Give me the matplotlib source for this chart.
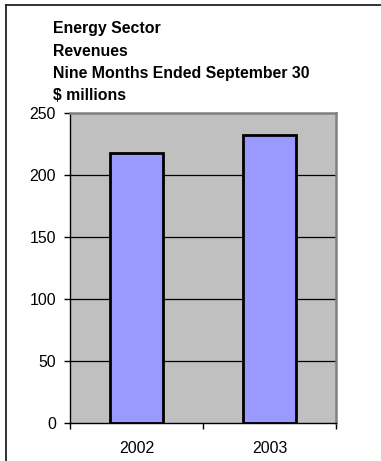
import matplotlib
matplotlib.use("Agg")
import matplotlib.pyplot as plt
from matplotlib.lines import Line2D

years = ["2002", "2003"]
revenues = [217.5, 232.0]
y_ticks = [0, 50, 100, 150, 200, 250]
title_lines = ["Energy Sector", "Revenues", "Nine Months Ended September 30", "$ millions"]

W, H = 381, 461
plt.rcParams["font.family"] = ["Liberation Sans", "DejaVu Sans"]
plt.rcParams["font.size"] = 11.4

fig = plt.figure(figsize=(W / 100, H / 100), dpi=100)
fig.patch.set_facecolor("white")

# outer chart frame (left + top edges only show)
fig.add_artist(Line2D([6 / W, 6 / W], [0, 1 - 5 / H], transform=fig.transFigure,
                      color="#222222", lw=1.3))
fig.add_artist(Line2D([6 / W, 1], [1 - 5 / H, 1 - 5 / H], transform=fig.transFigure,
                      color="#222222", lw=1.3))

for i, line in enumerate(title_lines):
    fig.text(53 / W, 1 - (29 + 22.3 * i) / H, line, ha="left", va="center",
             fontweight="bold", fontsize=11.4)

ax = fig.add_axes([70 / W, (H - 423) / H, 266 / W, 310 / H])
ax.set_facecolor("#C0C0C0")
ax.set_xlim(-0.5, len(years) - 0.5)
ax.set_ylim(0, 250)

for v in y_ticks[1:-1]:
    ax.axhline(v, color="black", lw=0.9, zorder=1)

ax.bar(range(len(years)), revenues, width=0.405, color="#9999FF",
       edgecolor="black", linewidth=2.0, zorder=2)

ax.set_yticks(y_ticks)
ax.set_xticks([-0.5, 0.5, 1.5])
ax.set_xticklabels([])
ax.set_xticks(range(len(years)), minor=True)
ax.set_xticklabels(years, minor=True)
ax.tick_params(axis="x", which="minor", length=0, pad=13)
ax.tick_params(axis="x", which="major", direction="out", length=4, width=1, color="black")
ax.tick_params(axis="y", direction="out", length=4, width=1, color="black", pad=6)

for side in ("left", "bottom"):
    ax.spines[side].set_color("black")
    ax.spines[side].set_linewidth(1.0)
for side in ("top", "right"):
    ax.spines[side].set_color("#808080")
    ax.spines[side].set_linewidth(1.8)

fig.savefig("out.png", dpi=100, facecolor="white")
